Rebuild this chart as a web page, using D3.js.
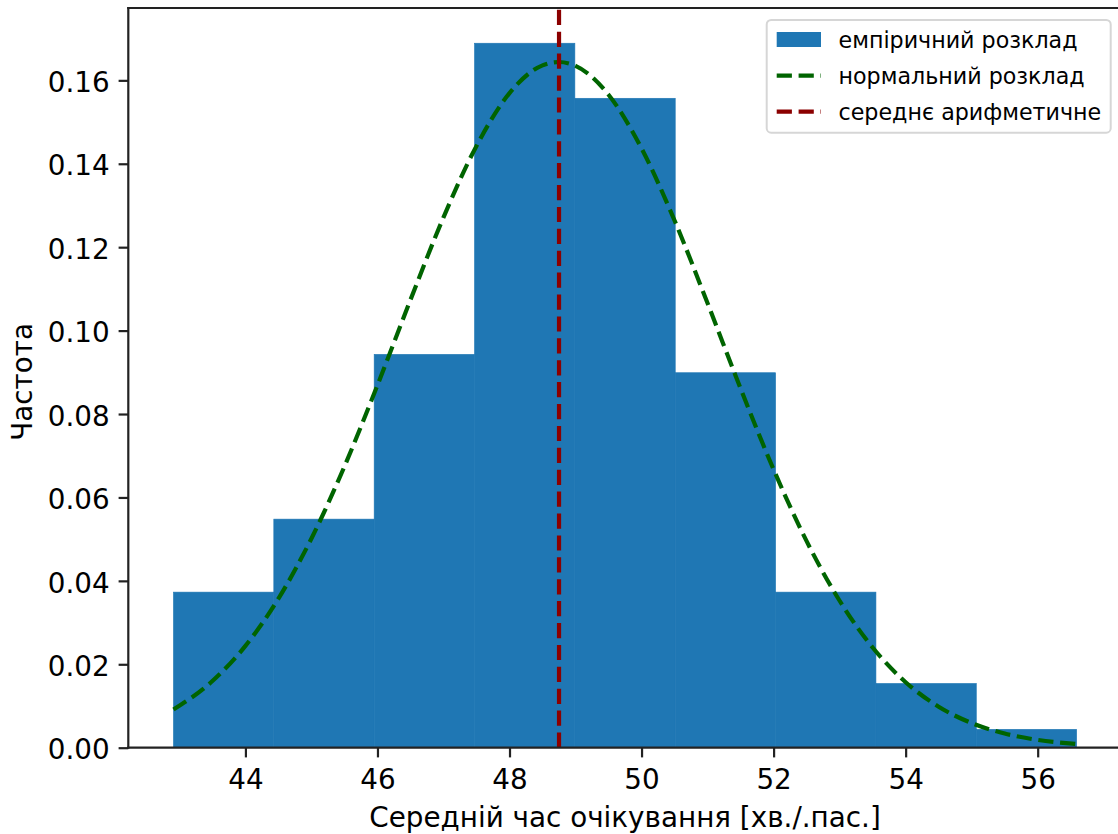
<!DOCTYPE html>
<html>
<head>
<meta charset="utf-8">
<script src="https://cdn.jsdelivr.net/npm/d3@7"></script>
<style>
  html, body { margin: 0; padding: 0; background: #fff; }
  svg { display: block; overflow: hidden; }
  text { font-family: "DejaVu Sans", sans-serif; fill: #000; }
</style>
</head>
<body>
<svg id="chart" width="1118" height="834"></svg>
<script>
// Histogram bin edges (waiting time, minutes per passenger)
const binEdges = [42.91, 44.43, 45.95, 47.47, 48.99, 50.51, 52.03, 53.55, 55.07, 56.59];
// Relative frequency (density) of each bin
const frequency = [0.0373, 0.0548, 0.0943, 0.1689, 0.1557, 0.0899, 0.0373, 0.0154, 0.0044];
// Fitted normal density, sampled points
const normalX = [42.91, 43.5, 44, 44.5, 45, 45.5, 46, 46.5, 47, 47.5, 48, 48.5, 48.75, 49, 49.5,
                 50, 50.5, 51, 51.5, 52, 52.5, 53, 53.5, 54, 54.5, 55, 55.5, 56, 56.59];
const normalY = [0.00918, 0.01598, 0.02442, 0.03574, 0.05016, 0.06744, 0.08692, 0.10739, 0.12715,
                 0.14428, 0.15694, 0.16360, 0.1644, 0.16346, 0.15654, 0.14367, 0.12639, 0.10656,
                 0.08611, 0.06670, 0.04952, 0.03523, 0.02402, 0.01570, 0.00983, 0.00590, 0.00340,
                 0.00187, 0.00088];
// Arithmetic mean
const meanValue = 48.75;
// Axis ticks
const xTicks = [44, 46, 48, 50, 52, 54, 56];
const yTicks = [0.00, 0.02, 0.04, 0.06, 0.08, 0.10, 0.12, 0.14, 0.16];
// Legend entries
const legendLabels = ["емпіричний розклад", "нормальний розклад", "середнє арифметичне"];
const xLabel = "Середній час очікування [хв./.пас.]";
const yLabel = "Частота";

const svg = d3.select("#chart");
const plot = { left: 128.3, right: 1121.8, top: 8, bottom: 747.7 };

const xMin = binEdges[0], xMax = binEdges[binEdges.length - 1];
const pad = (xMax - xMin) * 0.05;
const x = d3.scaleLinear().domain([xMin - pad, xMax + pad]).range([plot.left, plot.right]);
const y = d3.scaleLinear().domain([0, d3.max(frequency) * 1.05]).range([plot.bottom, plot.top]);

const bins = frequency.map((f, i) => ({ x0: binEdges[i], x1: binEdges[i + 1], f }));

const blue = "#1f77b4", green = "#006400", red = "#8b0000";
const lw = 4.2, dash = "15.2,6.7";

// Histogram bars (thin same-colour stroke hides seams between neighbours)
svg.append("g").selectAll("rect").data(bins).join("rect")
  .attr("x", d => x(d.x0))
  .attr("width", d => x(d.x1) - x(d.x0))
  .attr("y", d => y(d.f))
  .attr("height", d => y(0) - y(d.f))
  .attr("fill", blue)
  .attr("stroke", blue).attr("stroke-width", 0.6);

// Normal density curve
const pts = normalX.map((v, i) => [v, normalY[i]]);
svg.append("path").datum(pts)
  .attr("d", d3.line().x(d => x(d[0])).y(d => y(d[1])).curve(d3.curveMonotoneX))
  .attr("fill", "none").attr("stroke", green)
  .attr("stroke-width", lw).attr("stroke-dasharray", dash);

// Mean line
svg.append("line")
  .attr("x1", x(meanValue)).attr("x2", x(meanValue))
  .attr("y1", plot.bottom).attr("y2", plot.top)
  .attr("stroke", red).attr("stroke-width", lw).attr("stroke-dasharray", dash);

// Axes
const tickFont = 27.8;
const xAxis = svg.append("g").attr("transform", `translate(0,${plot.bottom})`)
  .call(d3.axisBottom(x).tickValues(xTicks).tickFormat(d3.format("d")).tickSize(9.7).tickPadding(7));
const yAxis = svg.append("g").attr("transform", `translate(${plot.left},0)`)
  .call(d3.axisLeft(y).tickValues(yTicks).tickFormat(d3.format(".2f")).tickSize(9.7).tickPadding(9));
[xAxis, yAxis].forEach(g => {
  g.attr("font-family", null).attr("font-size", null);
  g.select(".domain").remove();
  g.selectAll(".tick line").attr("stroke", "#222").attr("stroke-width", 2.2);
  g.selectAll(".tick text").style("font-size", tickFont + "px").attr("fill", "#000");
});
xAxis.selectAll(".tick text").attr("dy", null).attr("y", 41.6);
yAxis.selectAll(".tick text").attr("dy", null).attr("y", 11.2);

// Spines
const spine = svg.append("g").attr("stroke", "#222").attr("stroke-width", 2.2).attr("fill", "none");
spine.append("line").attr("x1", plot.left).attr("x2", plot.left).attr("y1", plot.top - 1.1).attr("y2", plot.bottom + 1.1);
spine.append("line").attr("x1", plot.left - 1.1).attr("x2", plot.right).attr("y1", plot.bottom).attr("y2", plot.bottom);
spine.append("line").attr("x1", plot.left - 1.1).attr("x2", plot.right).attr("y1", plot.top).attr("y2", plot.top);
spine.append("line").attr("x1", plot.right).attr("x2", plot.right).attr("y1", plot.top).attr("y2", plot.bottom);

// Axis titles
svg.append("text").attr("x", (plot.left + plot.right) / 2).attr("y", 827)
  .attr("text-anchor", "middle").style("font-size", tickFont + "px").text(xLabel);
svg.append("text")
  .attr("transform", `translate(31.7,${(plot.top + plot.bottom) / 2 + 4}) rotate(-90)`)
  .attr("text-anchor", "middle").style("font-size", tickFont + "px").text(yLabel);

// Legend
const legFont = 22.2;
const leg = svg.append("g");
leg.append("rect").attr("x", 766.7).attr("y", 20).attr("width", 344).attr("height", 112.7)
  .attr("rx", 4.5).attr("fill", "rgba(255,255,255,0.8)").attr("stroke", "#d6d6d6").attr("stroke-width", 2);
const rowY = [39.5, 75.7, 111.7];
leg.append("rect").attr("x", 776.7).attr("y", rowY[0] - 7.5).attr("width", 44.3).attr("height", 15).attr("fill", blue);
[green, red].forEach((c, i) => {
  leg.append("line").attr("x1", 776.7).attr("x2", 821).attr("y1", rowY[i + 1]).attr("y2", rowY[i + 1])
    .attr("stroke", c).attr("stroke-width", lw).attr("stroke-dasharray", dash);
});
legendLabels.forEach((t, i) => {
  leg.append("text").attr("x", 838.5).attr("y", rowY[i] + 8).style("font-size", legFont + "px").text(t);
});
</script>
</body>
</html>
